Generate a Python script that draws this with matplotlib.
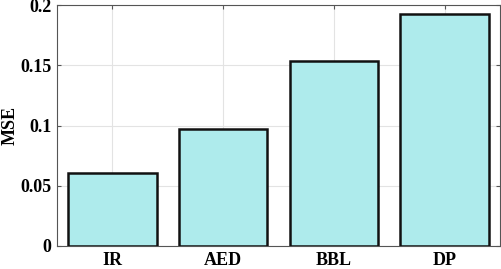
import matplotlib
matplotlib.use("Agg")
import matplotlib.pyplot as plt

categories = ["IR", "AED", "BBL", "DP"]
mse = [0.0605, 0.097, 0.1535, 0.1925]
yticks = [0, 0.05, 0.1, 0.15, 0.2]
ytick_labels = ["0", "0.05", "0.1", "0.15", "0.2"]

plt.rcParams['font.family'] = ['Liberation Serif', 'DejaVu Serif']
plt.rcParams['font.weight'] = 'bold'

fig = plt.figure(figsize=(5.02, 2.69), dpi=100)
ax = fig.add_axes([57/502, 23/269, 443/502, 241/269])
x = list(range(1, len(categories) + 1))
ax.bar(x, mse, width=0.8, color="#AEEBEC", edgecolor="#111111", linewidth=1.8, zorder=3)
ax.set_xlim(0.5, 4.5)
ax.set_ylim(0, 0.2)
ax.set_xticks(x)
ax.set_xticklabels(categories, fontsize=13, fontweight='bold')
ax.set_yticks(yticks)
ax.set_yticklabels(ytick_labels, fontsize=13, fontweight='bold')
ax.set_ylabel("MSE", fontsize=13, fontweight='bold')
ax.yaxis.set_label_coords(-0.086, 0.5)
ax.grid(True, color="#E3E3E3", linewidth=0.8, zorder=0)
ax.set_axisbelow(True)
for s in ax.spines.values():
    s.set_color("#555555")
    s.set_linewidth(0.8)
ax.tick_params(direction='in', length=3, width=0.8, color="#555555", top=True, right=True, pad=4)
fig.savefig("out.png", dpi=100)
